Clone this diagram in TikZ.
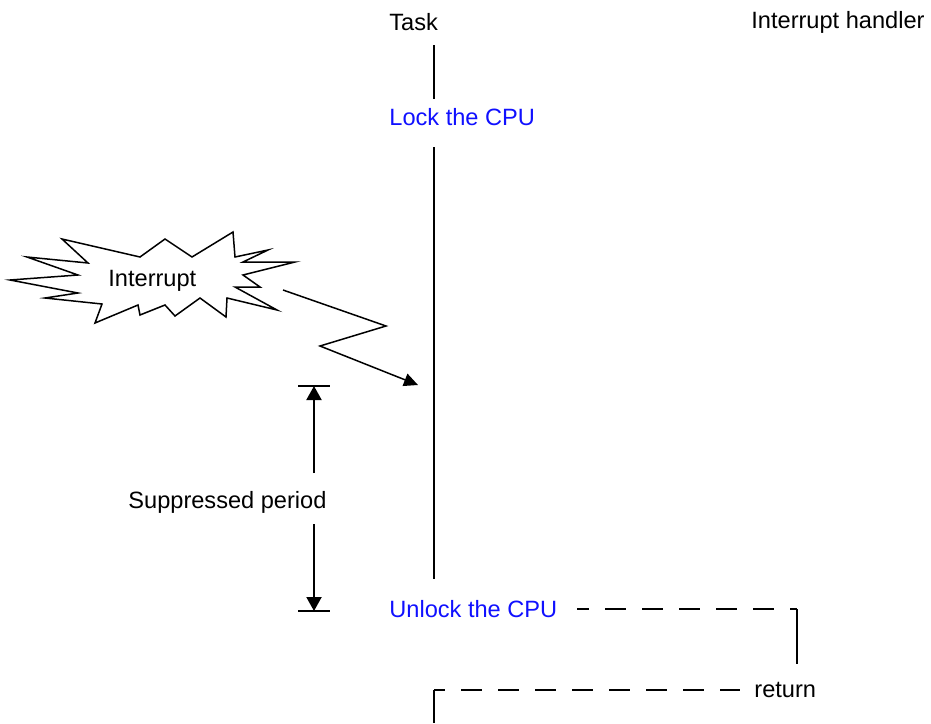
\documentclass[tikz,border=0pt]{standalone}
\usepackage{fontspec}
\setmainfont{Liberation Sans}
\usetikzlibrary{arrows.meta,positioning}
\definecolor{lockblue}{HTML}{1010FF}

\begin{document}
\begin{tikzpicture}[x=0.5pt,y=-0.5pt,
  lbl/.style={anchor=west,inner sep=0pt,font=\fontsize{11.8}{14}\selectfont},
  act/.style={lbl,text=lockblue},
  life/.style={line width=1pt},
  retline/.style={line width=1pt,dash pattern=on 10.5pt off 8pt}]
\useasboundingbox (0,0) rectangle (931,723);
% column heads
\node[lbl] (task) at (389,22) {Task};
\node[lbl] (handler) at (751,22) {Interrupt handler};
% task side
\node[act] (lock) at (389,117) {Lock the CPU};
\node[act] (unlock) at (389,609) {Unlock the CPU};
\node[lbl] (ret) at (754,690) {return};
\coordinate (t0) at (434,45);
\coordinate (t1) at (434,99);
\coordinate (t2) at (434,147);
\coordinate (t3) at (434,579);
\coordinate (t4) at (434,690);
\coordinate (t5) at (434,723);
\draw[life] (t0) -- (t1);
\draw[life] (t2) -- (t3);
\draw[life] (t4) -- (t5);
% jump to the handler and back
\coordinate (h0) at (577,609);
\coordinate (h1) at (797,609);
\coordinate (h2) at (797,664);
\draw[retline,dash phase=4.5pt] (h0) -- (h1);
\draw[life] (h1) -- (h2);
\coordinate (r1) at (740,690);
\draw[retline,dash phase=5pt] (t4) -- (r1);
% the interrupt
\draw[line width=0.75pt] (138,305) -- (140,315) -- (150,311) -- (165,305) -- (175,316)
  -- (200,298) -- (226,317) -- (227,298) -- (277,310) -- (235,287) -- (260,287)
  -- (243,275) -- (295,262) -- (243,262) -- (268,250) -- (235,257) -- (233,232)
  -- (192,257) -- (165,239) -- (140,257) -- (62,239) -- (88,263) -- (27,257)
  -- (78,275) -- (10,280) -- (78,293) -- (45,298) -- (102,304) -- (95,323) -- cycle;
\node[lbl] (irq) at (108,281) {Interrupt};
\coordinate (z0) at (283,290);
\coordinate (z1) at (386,326);
\coordinate (z2) at (320,346);
\coordinate (z3) at (418,385);
\draw[line width=0.75pt,-{Triangle[length=7pt,width=6.5pt]}] (z0) -- (z1) -- (z2) -- (z3);
% suppressed period
\node[lbl] (supp) at (128,502) {Suppressed period};
\coordinate (s0) at (314,386);
\coordinate (s1) at (314,611);
\draw[life] (298,386) -- (330,386);
\draw[life] (298,611) -- (330,611);
\draw[life,-{Triangle[length=7pt,width=7.5pt]}] (314,473) -- (s0);
\draw[life,-{Triangle[length=7pt,width=7.5pt]}] (314,524) -- (s1);
\end{tikzpicture}
\end{document}
